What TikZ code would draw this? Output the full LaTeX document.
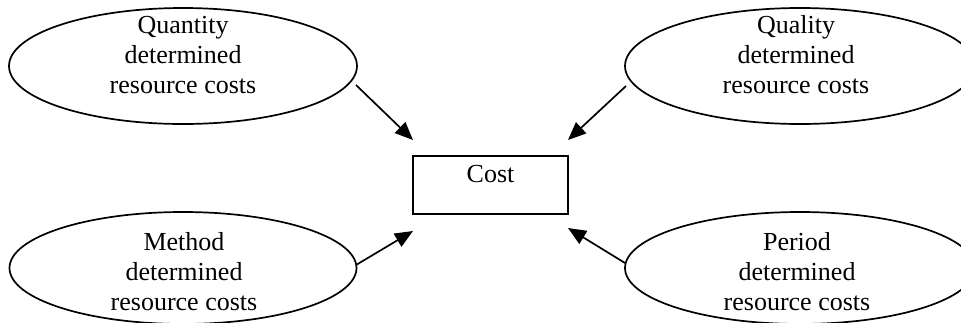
\documentclass[tikz,border=0pt]{standalone}
\usepackage{fontspec}
\setmainfont{Liberation Serif}
\usetikzlibrary{shapes.geometric,arrows.meta}

\tikzset{
  oval/.style={draw, ellipse, line width=1.7pt, inner sep=0pt},
  lbl/.style={align=center, inner sep=0pt, anchor=base,
    font=\fontsize{26}{30}\selectfont},
  costbox/.style={draw, line width=1.5pt, minimum width=155pt, minimum height=58pt, inner sep=0pt},
  feed/.style={line width=1.7pt, -{Triangle[length=18pt,width=15pt]}}
}

\begin{document}
\begin{tikzpicture}[x=1pt,y=-1pt]
  \path[use as bounding box, clip] (0,0) rectangle (961,322);

  % four resource-cost ovals
  \node[oval, minimum width=348pt, minimum height=116pt] (qty) at (183,66) {};
  \node[oval, minimum width=350pt, minimum height=116pt] (qly) at (800,66) {};
  \node[oval, minimum width=347pt, minimum height=112pt] (mth) at (183,268) {};
  \node[oval, minimum width=350pt, minimum height=112pt] (per) at (800,268) {};

  % labels (base anchor sits on the last line)
  \node[lbl] (tqty) at (183,93)  {Quantity\\determined\\resource costs};
  \node[lbl] (tqly) at (796,93)  {Quality\\determined\\resource costs};
  \node[lbl] (tmth) at (184,310) {Method\\determined\\resource costs};
  \node[lbl] (tper) at (797,310) {Period\\determined\\resource costs};

  % central box
  \node[costbox] (cost) at (490.5,185) {};
  \node[lbl] (tcost) at (490.5,182) {Cost};

  % arrow ends
  \coordinate (s1) at (356,85);  \coordinate (e1) at (413,140);
  \coordinate (s2) at (626,86);  \coordinate (e2) at (568,140);
  \coordinate (s3) at (356,265); \coordinate (e3) at (413,231);
  \coordinate (s4) at (625,263); \coordinate (e4) at (568,228);

  \draw[feed] (s1) -- (e1);
  \draw[feed] (s2) -- (e2);
  \draw[feed] (s3) -- (e3);
  \draw[feed] (s4) -- (e4);
\end{tikzpicture}
\end{document}
